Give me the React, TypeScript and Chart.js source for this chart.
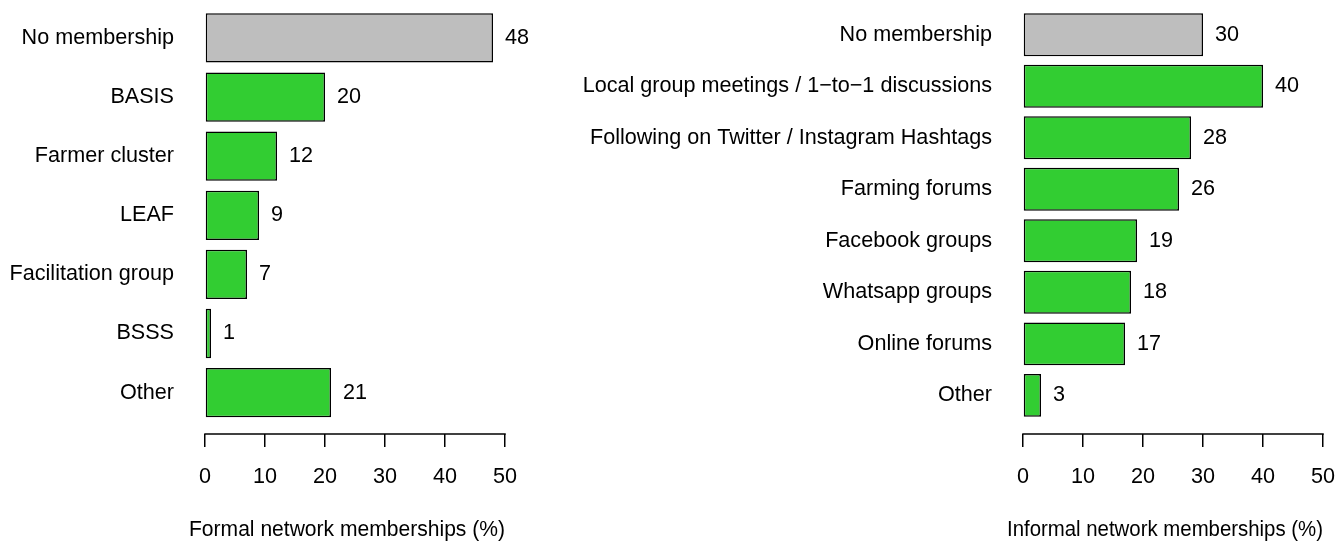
import React, { useEffect, useRef } from "react";
import { Chart, registerables } from "chart.js";

Chart.register(...registerables);

// ---------- data ----------
const formalCategories = [
  "No membership",
  "BASIS",
  "Farmer cluster",
  "LEAF",
  "Facilitation group",
  "BSSS",
  "Other",
];
const formalValues = [48, 20, 12, 9, 7, 1, 21];

const informalCategories = [
  "No membership",
  "Local group meetings / 1\u2212to\u22121 discussions",
  "Following on Twitter / Instagram Hashtags",
  "Farming forums",
  "Facebook groups",
  "Whatsapp groups",
  "Online forums",
  "Other",
];
const informalValues = [30, 40, 28, 26, 19, 18, 17, 3];

const xTickValues = [0, 10, 20, 30, 40, 50];
const formalTitle = "Formal network memberships (%)";
const informalTitle = "Informal network memberships (%)";

// ---------- style ----------
const FONT = '"Liberation Sans", Arial, Helvetica, sans-serif';
const FS = 21.6;
const GREY = "#BEBEBE";
const GREEN = "#32CD32";

const axisLinePlugin = {
  id: "axisLine",
  afterDraw(chart: any) {
    const x = chart.scales.x;
    const ctx = chart.ctx;
    ctx.save();
    ctx.strokeStyle = "#000";
    ctx.lineWidth = 1.5;
    ctx.beginPath();
    ctx.moveTo(x.getPixelForValue(xTickValues[0]) - 0.75, x.top);
    ctx.lineTo(x.getPixelForValue(xTickValues[xTickValues.length - 1]) + 0.75, x.top);
    ctx.stroke();
    ctx.restore();
  },
};

const valueLabelPlugin = {
  id: "valueLabels",
  afterDatasetsDraw(chart: any) {
    const ctx = chart.ctx;
    const meta = chart.getDatasetMeta(0);
    const ds = chart.data.datasets[0];
    ctx.save();
    ctx.fillStyle = "#000";
    ctx.font = `${FS}px ${FONT}`;
    ctx.textAlign = "left";
    ctx.textBaseline = "middle";
    meta.data.forEach((bar: any, i: number) => {
      ctx.fillText(String(ds.data[i].x), bar.x + 12, bar.y);
    });
    ctx.restore();
  },
};

function makeConfig(
  cats: string[],
  vals: number[],
  title: string,
  yWidth: number,
  yMin: number,
  yMax: number,
  padRight: number
): any {
  const positions = cats.map((_, i) => 0.7 + 1.2 * i);
  return {
    type: "bar",
    data: {
      datasets: [
        {
          data: vals.map((v, i) => ({ x: v, y: positions[i] })),
          backgroundColor: vals.map((_, i) => (i === 0 ? GREY : GREEN)),
          borderColor: "#000",
          borderWidth: 1.5,
          borderSkipped: false,
          barPercentage: 1 / 1.2,
          categoryPercentage: 1,
        },
      ],
    },
    options: {
      indexAxis: "y",
      responsive: false,
      animation: false,
      devicePixelRatio: 1,
      layout: { padding: { left: 0, top: 0, right: padRight, bottom: 0 } },
      plugins: {
        legend: { display: false },
        tooltip: { enabled: false },
        title: { display: false },
      },
      scales: {
        y: {
          type: "linear",
          reverse: true,
          offset: false,
          min: yMin,
          max: yMax,
          grid: { display: false, drawTicks: false, offset: false },
          border: { display: false },
          afterBuildTicks: (s: any) => {
            s.ticks = positions.map((v) => ({ value: v }));
          },
          afterFit: (s: any) => {
            s.width = yWidth;
            s.paddingTop = 0;
            s.paddingBottom = 0;
          },
          ticks: {
            autoSkip: false,
            padding: 15,
            color: "#000",
            font: { family: FONT, size: FS, lineHeight: 1 },
            callback: (_v: any, i: number) => cats[i],
          },
        },
        x: {
          type: "linear",
          position: "bottom",
          offset: false,
          min: -2.667,
          max: 50,
          grid: {
            display: true,
            drawOnChartArea: false,
            drawTicks: true,
            tickLength: 13,
            color: "#000",
            lineWidth: 1.5,
            offset: false,
          },
          border: { display: false },
          afterBuildTicks: (s: any) => {
            s.ticks = xTickValues.map((v) => ({ value: v }));
          },
          afterFit: (s: any) => {
            s.height = 107;
            s.paddingLeft = 0;
            s.paddingRight = 0;
          },
          ticks: {
            autoSkip: false,
            maxRotation: 0,
            minRotation: 0,
            padding: 19,
            color: "#000",
            font: { family: FONT, size: FS, lineHeight: 1 },
            callback: (v: any) => String(v),
          },
          title: {
            display: true,
            text: title,
            color: "#000",
            font: { family: FONT, size: FS, lineHeight: 1 },
            padding: { top: 0, bottom: 0 },
          },
        },
      },
    },
    plugins: [axisLinePlugin, valueLabelPlugin],
  };
}

export default function App() {
  const leftRef = useRef<HTMLCanvasElement>(null);
  const rightRef = useRef<HTMLCanvasElement>(null);

  useEffect(() => {
    const c1 = new Chart(
      leftRef.current as HTMLCanvasElement,
      makeConfig(formalCategories, formalValues, formalTitle, 189, -0.07, 8.74, 35)
    );
    const c2 = new Chart(
      rightRef.current as HTMLCanvasElement,
      makeConfig(informalCategories, informalValues, informalTitle, 467, -0.11, 10.0, 12)
    );
    return () => {
      c1.destroy();
      c2.destroy();
    };
  }, []);

  return (
    <div
      style={{
        position: "absolute",
        left: 0,
        top: 0,
        width: 1335,
        height: 541,
        background: "#fff",
        overflow: "hidden",
      }}
    >
      <canvas
        ref={leftRef}
        width={540}
        height={541}
        style={{ position: "absolute", left: 0, top: 0, width: 540, height: 541 }}
      />
      <canvas
        ref={rightRef}
        width={795}
        height={541}
        style={{ position: "absolute", left: 540, top: 0, width: 795, height: 541 }}
      />
    </div>
  );
}
